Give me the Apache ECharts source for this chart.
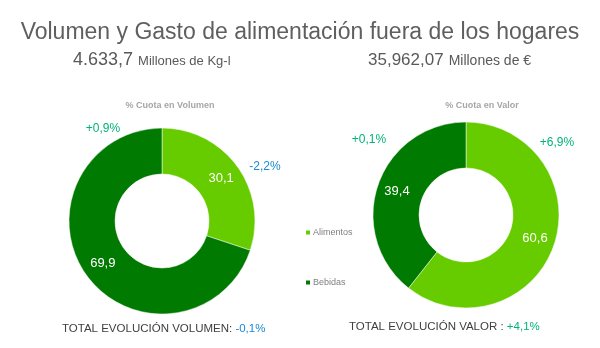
<!DOCTYPE html>
<html>
<head>
<meta charset="utf-8">
<script src="https://cdn.jsdelivr.net/npm/echarts@6/dist/echarts.min.js"></script>
<style>
  html, body { margin: 0; padding: 0; background: #ffffff; }
  #chart { width: 600px; height: 348px; }
</style>
</head>
<body>
<div id="chart"></div>
<script>
// Categories and shares (%)
const categories = ['Alimentos', 'Bebidas'];
const volumeShare = [30.1, 69.9];
const valueShare = [60.6, 39.4];
// Year-on-year evolution per category
const volumeEvolution = ['-2,2%', '+0,9%'];
const valueEvolution = ['+6,9%', '+0,1%'];
const totalVolumeEvolution = '-0,1%';
const totalValueEvolution = '+4,1%';
const totalVolume = '4.633,7';
const totalValue = '35,962,07';

const colors = ['#66cc00', '#007a00'];
const POS = '#00b37a';
const NEG = '#1a8ad4';
const FONT = '"Liberation Sans", Arial, sans-serif';

const evoColor = s => (s.charAt(0) === '-' ? NEG : POS);
const fmt = v => v.toFixed(1).replace('.', ',');

function pieSeries(name, values, center) {
  return {
    type: 'pie',
    name: name,
    center: center,
    radius: [47, 93],
    startAngle: 90,
    clockwise: true,
    avoidLabelOverlap: false,
    silent: true,
    itemStyle: { borderColor: '#ffffff', borderWidth: 0.5 },
    label: {
      show: true,
      position: 'inside',
      color: '#ffffff',
      fontFamily: FONT,
      fontSize: 13,
      formatter: p => fmt(p.value)
    },
    labelLine: { show: false },
    data: categories.map((c, i) => ({ name: c, value: values[i] }))
  };
}

function txt(x, y, text, color, size) {
  return {
    type: 'text', x: x, y: y,
    style: {
      text: text, fill: color, fontFamily: FONT, fontSize: size,
      textAlign: 'center', textVerticalAlign: 'middle'
    }
  };
}

function subtitle(num, unit, left, numSize, unitSize) {
  return {
    text: '{n|' + num + '} {u|' + unit + '}',
    left: left, top: 46,
    textStyle: { rich: {
      n: { fontFamily: FONT, fontSize: numSize, fontWeight: 'normal', color: '#595959' },
      u: { fontFamily: FONT, fontSize: unitSize, fontWeight: 'normal', color: '#595959', padding: [2, 0, 0, 0] }
    } }
  };
}

const chart = echarts.init(document.getElementById('chart'), null, { renderer: 'canvas' });
chart.setOption({
  backgroundColor: '#ffffff',
  color: colors,
  animation: false,
  title: [
    {
      text: 'Volumen y Gasto de alimentación fuera de los hogares',
      left: 'center', top: 16,
      textStyle: { fontFamily: FONT, fontSize: 23, fontWeight: 'normal', color: '#5f5f5f' }
    },
    subtitle(totalVolume, 'Millones de Kg-l', 68, 18, 13),
    subtitle(totalValue, 'Millones de €', 363, 17, 14),
    {
      text: '% Cuota en Volumen', left: 165, top: 96, textAlign: 'center',
      textStyle: { fontFamily: FONT, fontSize: 9, fontWeight: 'bold', color: '#a6a6a6' }
    },
    {
      text: '% Cuota en Valor', left: 477, top: 96, textAlign: 'center',
      textStyle: { fontFamily: FONT, fontSize: 9, fontWeight: 'bold', color: '#a6a6a6' }
    }
  ],
  legend: {
    orient: 'vertical',
    left: 299, top: 223,
    itemWidth: 6, itemHeight: 6, itemGap: 41,
    icon: 'rect',
    data: categories,
    textStyle: { fontFamily: FONT, fontSize: 9, color: '#7f7f7f', padding: [0, 0, 0, -3] }
  },
  series: [
    pieSeries('Volumen', volumeShare, [162, 221]),
    pieSeries('Valor', valueShare, [466, 215])
  ],
  graphic: [
    txt(265, 167, volumeEvolution[0], evoColor(volumeEvolution[0]), 12),
    txt(103, 129, volumeEvolution[1], evoColor(volumeEvolution[1]), 12),
    txt(557, 143, valueEvolution[0], evoColor(valueEvolution[0]), 12),
    txt(369, 140, valueEvolution[1], evoColor(valueEvolution[1]), 12),
    {
      type: 'text', x: 62, y: 329,
      style: {
        text: '{a|TOTAL EVOLUCIÓN VOLUMEN: }{b|' + totalVolumeEvolution + '}',
        textVerticalAlign: 'middle',
        rich: {
          a: { fontFamily: FONT, fontSize: 11.5, fill: '#404040' },
          b: { fontFamily: FONT, fontSize: 11.5, fill: evoColor(totalVolumeEvolution) }
        }
      }
    },
    {
      type: 'text', x: 349, y: 327,
      style: {
        text: '{a|TOTAL EVOLUCIÓN VALOR : }{b|' + totalValueEvolution + '}',
        textVerticalAlign: 'middle',
        rich: {
          a: { fontFamily: FONT, fontSize: 11.5, fill: '#404040' },
          b: { fontFamily: FONT, fontSize: 11.5, fill: evoColor(totalValueEvolution) }
        }
      }
    }
  ]
});
</script>
</body>
</html>
